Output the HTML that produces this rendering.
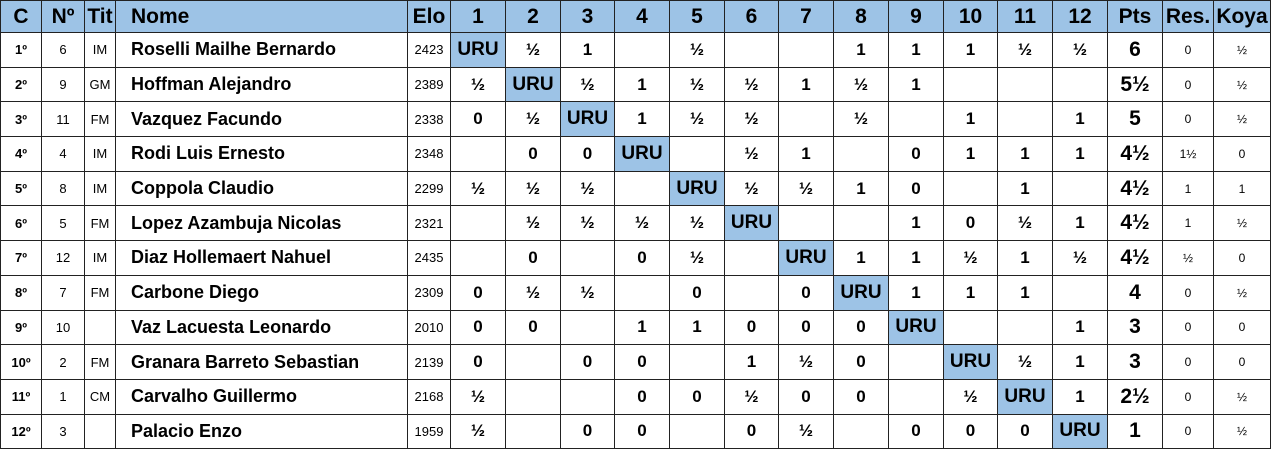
<!DOCTYPE html>
<html><head><meta charset="utf-8"><style>
html,body{margin:0;padding:0;background:#fff;width:1273px;height:450px;overflow:hidden}
table{border-collapse:collapse;table-layout:fixed;position:absolute;left:0;top:0;font-family:"Liberation Sans",sans-serif;color:#000}
td{border:1px solid #222;text-align:center;padding:0;font-weight:bold;font-size:17px;height:33.7px;overflow:hidden;white-space:nowrap}
tr.h td{background:#9dc3e6;font-size:21px;height:31px}
td.c{font-size:13px}
td.s{font-weight:normal;font-size:13px}
td.n{text-align:left;padding-left:15px;font-size:18px}
tr.h td.n{font-size:21px}
td.u{background:#9dc3e6;font-size:19px}
td.p{font-size:21px}
td.x{font-weight:normal;font-size:12px}
</style></head><body>
<table>
<colgroup><col style="width:41px"><col style="width:43px"><col style="width:31px"><col style="width:292px"><col style="width:43px"><col style="width:55px"><col style="width:55px"><col style="width:54px"><col style="width:55px"><col style="width:55px"><col style="width:54px"><col style="width:55px"><col style="width:55px"><col style="width:55px"><col style="width:54px"><col style="width:55px"><col style="width:55px"><col style="width:55px"><col style="width:51px"><col style="width:57px"></colgroup>
<tr class="h"><td>C</td><td>Nº</td><td>Tit</td><td class="n">Nome</td><td>Elo</td><td>1</td><td>2</td><td>3</td><td>4</td><td>5</td><td>6</td><td>7</td><td>8</td><td>9</td><td>10</td><td>11</td><td>12</td><td>Pts</td><td>Res.</td><td>Koya</td></tr>
<tr><td class="c">1º</td><td class="s">6</td><td class="s">IM</td><td class="n">Roselli Mailhe Bernardo</td><td class="s">2423</td><td class="u">URU</td><td>½</td><td>1</td><td></td><td>½</td><td></td><td></td><td>1</td><td>1</td><td>1</td><td>½</td><td>½</td><td class="p">6</td><td class="x">0</td><td class="x">½</td></tr>
<tr><td class="c">2º</td><td class="s">9</td><td class="s">GM</td><td class="n">Hoffman Alejandro</td><td class="s">2389</td><td>½</td><td class="u">URU</td><td>½</td><td>1</td><td>½</td><td>½</td><td>1</td><td>½</td><td>1</td><td></td><td></td><td></td><td class="p">5½</td><td class="x">0</td><td class="x">½</td></tr>
<tr><td class="c">3º</td><td class="s">11</td><td class="s">FM</td><td class="n">Vazquez Facundo</td><td class="s">2338</td><td>0</td><td>½</td><td class="u">URU</td><td>1</td><td>½</td><td>½</td><td></td><td>½</td><td></td><td>1</td><td></td><td>1</td><td class="p">5</td><td class="x">0</td><td class="x">½</td></tr>
<tr><td class="c">4º</td><td class="s">4</td><td class="s">IM</td><td class="n">Rodi Luis Ernesto</td><td class="s">2348</td><td></td><td>0</td><td>0</td><td class="u">URU</td><td></td><td>½</td><td>1</td><td></td><td>0</td><td>1</td><td>1</td><td>1</td><td class="p">4½</td><td class="x">1½</td><td class="x">0</td></tr>
<tr><td class="c">5º</td><td class="s">8</td><td class="s">IM</td><td class="n">Coppola Claudio</td><td class="s">2299</td><td>½</td><td>½</td><td>½</td><td></td><td class="u">URU</td><td>½</td><td>½</td><td>1</td><td>0</td><td></td><td>1</td><td></td><td class="p">4½</td><td class="x">1</td><td class="x">1</td></tr>
<tr><td class="c">6º</td><td class="s">5</td><td class="s">FM</td><td class="n">Lopez Azambuja Nicolas</td><td class="s">2321</td><td></td><td>½</td><td>½</td><td>½</td><td>½</td><td class="u">URU</td><td></td><td></td><td>1</td><td>0</td><td>½</td><td>1</td><td class="p">4½</td><td class="x">1</td><td class="x">½</td></tr>
<tr><td class="c">7º</td><td class="s">12</td><td class="s">IM</td><td class="n">Diaz Hollemaert Nahuel</td><td class="s">2435</td><td></td><td>0</td><td></td><td>0</td><td>½</td><td></td><td class="u">URU</td><td>1</td><td>1</td><td>½</td><td>1</td><td>½</td><td class="p">4½</td><td class="x">½</td><td class="x">0</td></tr>
<tr><td class="c">8º</td><td class="s">7</td><td class="s">FM</td><td class="n">Carbone Diego</td><td class="s">2309</td><td>0</td><td>½</td><td>½</td><td></td><td>0</td><td></td><td>0</td><td class="u">URU</td><td>1</td><td>1</td><td>1</td><td></td><td class="p">4</td><td class="x">0</td><td class="x">½</td></tr>
<tr><td class="c">9º</td><td class="s">10</td><td class="s"></td><td class="n">Vaz Lacuesta Leonardo</td><td class="s">2010</td><td>0</td><td>0</td><td></td><td>1</td><td>1</td><td>0</td><td>0</td><td>0</td><td class="u">URU</td><td></td><td></td><td>1</td><td class="p">3</td><td class="x">0</td><td class="x">0</td></tr>
<tr><td class="c">10º</td><td class="s">2</td><td class="s">FM</td><td class="n">Granara Barreto Sebastian</td><td class="s">2139</td><td>0</td><td></td><td>0</td><td>0</td><td></td><td>1</td><td>½</td><td>0</td><td></td><td class="u">URU</td><td>½</td><td>1</td><td class="p">3</td><td class="x">0</td><td class="x">0</td></tr>
<tr><td class="c">11º</td><td class="s">1</td><td class="s">CM</td><td class="n">Carvalho Guillermo</td><td class="s">2168</td><td>½</td><td></td><td></td><td>0</td><td>0</td><td>½</td><td>0</td><td>0</td><td></td><td>½</td><td class="u">URU</td><td>1</td><td class="p">2½</td><td class="x">0</td><td class="x">½</td></tr>
<tr><td class="c">12º</td><td class="s">3</td><td class="s"></td><td class="n">Palacio Enzo</td><td class="s">1959</td><td>½</td><td></td><td>0</td><td>0</td><td></td><td>0</td><td>½</td><td></td><td>0</td><td>0</td><td>0</td><td class="u">URU</td><td class="p">1</td><td class="x">0</td><td class="x">½</td></tr>
</table>
</body></html>
